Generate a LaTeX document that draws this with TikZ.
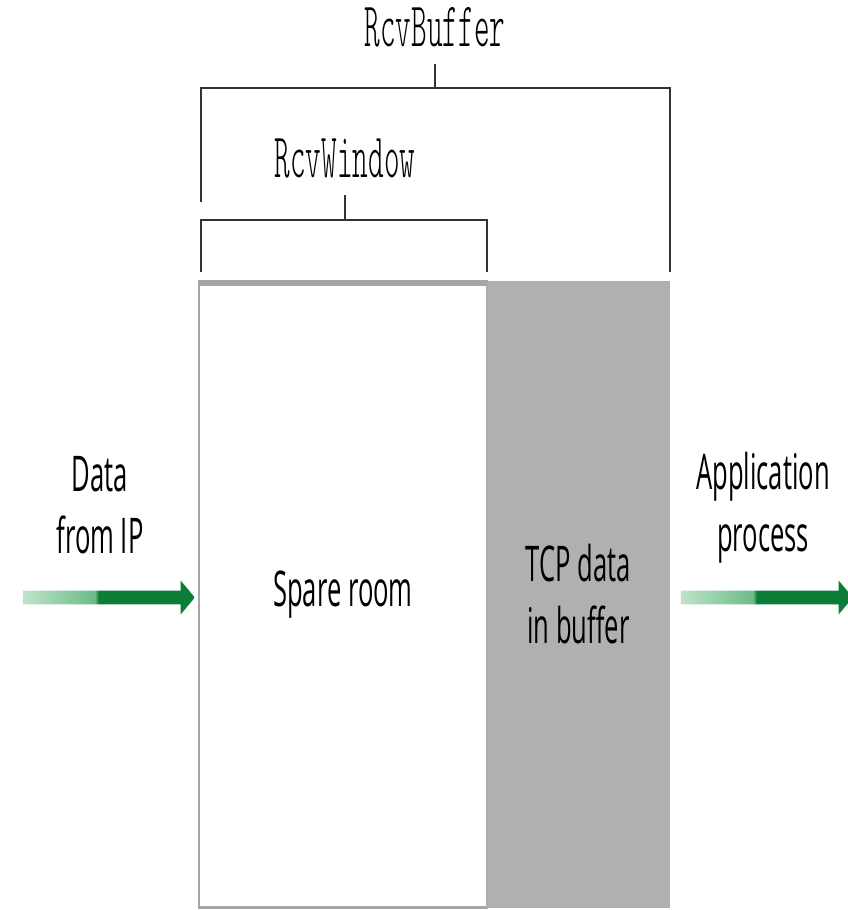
\documentclass[tikz,border=0pt]{standalone}
\usepackage{fontspec}
\usepackage{tikz}
\usetikzlibrary{positioning, calc, shapes.arrows}

\newfontfamily\labelfont[FakeStretch=0.52]{Open Sans}
\newfontfamily\codefont[FakeStretch=0.47]{Latin Modern Mono Light}

\definecolor{bufgray}{HTML}{AEB0B2}
\definecolor{edgegray}{HTML}{A4A6A8}
\definecolor{arrowgreen}{HTML}{0B7D36}
\definecolor{midgreen}{HTML}{6CBB88}
\definecolor{fadegreen}{HTML}{BFE3CB}
\pgfdeclarehorizontalshading{greenfade}{100bp}{color(0bp)=(fadegreen); color(25bp)=(fadegreen); color(46bp)=(midgreen); color(47bp)=(arrowgreen); color(100bp)=(arrowgreen)}

\begin{document}
\begin{tikzpicture}[x=0.02cm, y=-0.02cm,
    region/.style={minimum height=12.54cm, outer sep=0pt, inner sep=0pt, align=center,
        font=\labelfont\fontsize{28}{35.2}\selectfont},
    sidetext/.style={align=center, font=\labelfont\fontsize{28}{35.2}\selectfont},
    varname/.style={inner sep=0.06cm, text depth=0.3cm, font=\codefont\fontsize{36}{40}\selectfont},
    bracket/.style={draw=black!80, line width=1.1pt},
    flowarrow/.style={single arrow, shading=greenfade, draw=none, inner sep=0.13cm,
        single arrow head extend=0.2cm, single arrow tip angle=100, minimum height=3.44cm}
]
    \useasboundingbox (0,0) rectangle (848,910);

    % Receive buffer
    \node[region, draw=edgegray, line width=1.6pt, fill=white, minimum width=5.76cm,
        anchor=north west] (spare) at (199,281) {Spare room};
    \node[region, fill=bufgray, minimum width=3.66cm, right=0pt of spare] (tcpdata)
        {TCP data\\in buffer};
    \draw[edgegray, line width=3.2pt] ([yshift=-1.5pt]spare.north west) -- ([yshift=-1.5pt]spare.north east);

    % Brackets
    \coordinate (bufbar) at (435,88);
    \coordinate (winbar) at (345,220);
    \draw[bracket] (201,202) -- (201,88) -- (670,88) -- (670,272);
    \draw[bracket] (201,272) -- (201,220) -- (487,220) -- (487,272);
    \node[varname, anchor=base] (rcvbuffer) at (435,46) {RcvBuffer};
    \node[varname, anchor=base] (rcvwindow) at (345,177) {RcvWindow};
    \draw[bracket] (rcvbuffer.south) -- (bufbar);
    \draw[bracket] (rcvwindow.south) -- (winbar);

    % Data flow in and out
    \node[flowarrow] (inflow) at (106,597.5) {};
    \node[flowarrow] (outflow) at (764,597.5) {};
    \node[sidetext, anchor=base] (fromip) at (100,553) {Data\\from IP};
    \node[sidetext, anchor=base] (appproc) at (763,551) {Application\\process};
\end{tikzpicture}
\end{document}
